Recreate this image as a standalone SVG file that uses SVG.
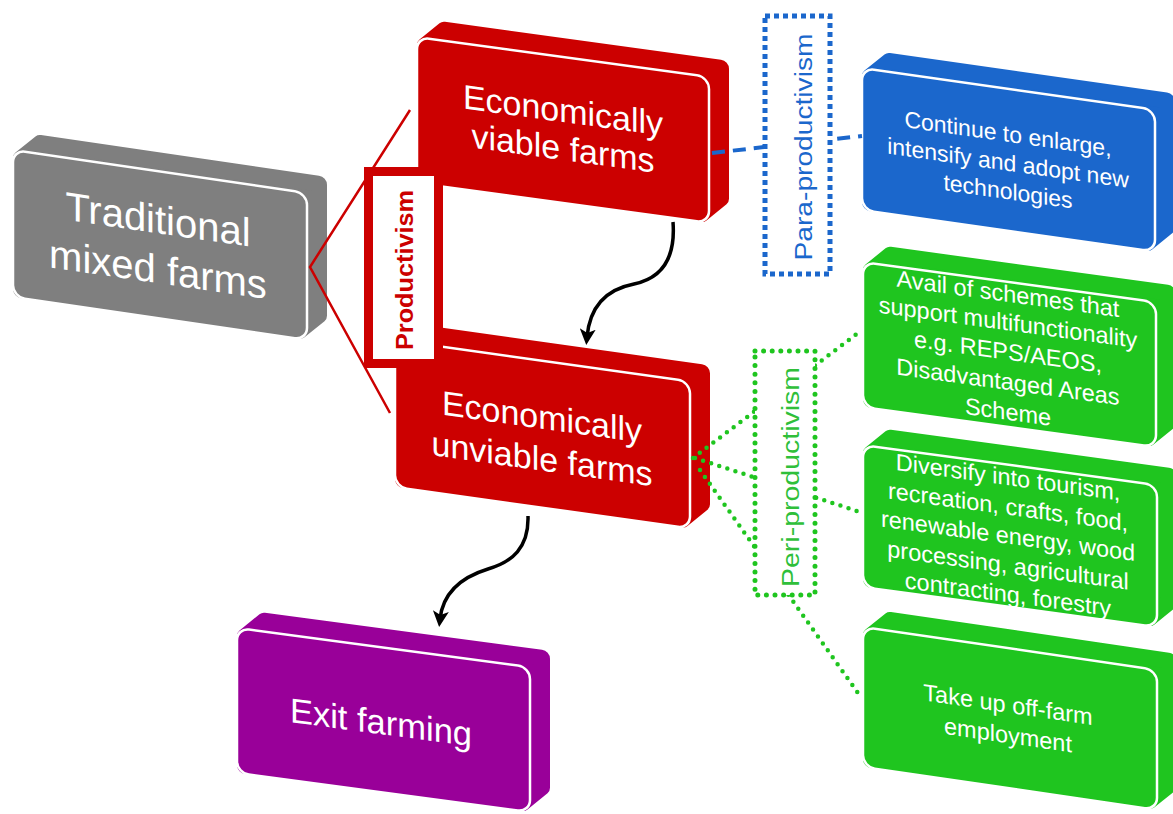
<svg xmlns="http://www.w3.org/2000/svg" width="1173" height="814" viewBox="0 0 1173 814">
<defs>
<style>
text{font-family:"Liberation Sans",Arial,sans-serif;}
.slab{stroke-width:16;stroke-linejoin:round;}
.face{stroke:#ffffff;stroke-width:2.5;}
.gray{fill:#7f7f7f;stroke:#7f7f7f;}
.red{fill:#cc0000;stroke:#cc0000;}
.purple{fill:#990099;stroke:#990099;}
.blue{fill:#1b67cc;stroke:#1b67cc;}
.green{fill:#1fc51f;stroke:#1fc51f;}
.face.gray,.face.red,.face.purple,.face.blue,.face.green{stroke:#ffffff;}
.t{fill:#ffffff;text-anchor:middle;}
.big{font-size:40px;}
.mid{font-size:34px;}
.sm{font-size:23.5px;}
.arrow{fill:none;stroke:#000000;stroke-width:3.5;marker-end:url(#ah);}
.dot{fill:none;stroke:#1fc51f;stroke-width:4.5;stroke-dasharray:0 8.5;stroke-linecap:round;}
</style>
<marker id="ah" viewBox="0 0 16 16" refX="8" refY="8" markerWidth="16" markerHeight="16" markerUnits="userSpaceOnUse" orient="auto">
<path d="M0,0 L16,8 L0,16 L4,8 z" fill="#000000"/>
</marker>
</defs>
<rect width="1173" height="814" fill="#ffffff"/>

<g id="n-traditional" transform="translate(13,150) skewY(8.3)">
<polygon class="slab gray" points="8,8 28,-11 306,-11 306,120 286,139 8,139"/>
<rect class="face gray" x="0" y="0" width="294" height="147" rx="12"/>
<text class="t big" x="145" y="62">Traditional</text>
<text class="t big" x="145" y="112">mixed farms</text>
</g>

<g id="n-viable" transform="translate(417,37) skewY(7.8)">
<polygon class="slab red" points="8,8 28,-11 304,-11 304,119 284,138 8,138"/>
<rect class="face red" x="0" y="0" width="292" height="146" rx="12"/>
<text class="t mid" x="146" y="65">Economically</text>
<text class="t mid" x="146" y="103">viable farms</text>
</g>

<g id="n-unviable" transform="translate(395,340) skewY(8)">
<polygon class="slab red" points="8,8 28,-11 307,-11 307,120 287,139 8,139"/>
<rect class="face red" x="0" y="0" width="295" height="147" rx="12"/>
<text class="t mid" x="147" y="68">Economically</text>
<text class="t mid" x="147" y="110">unviable farms</text>
</g>

<g id="n-exit" transform="translate(237,628) skewY(7.6)">
<polygon class="slab purple" points="8,8 28,-11 305,-11 305,118 285,137 8,137"/>
<rect class="face purple" x="0" y="0" width="293" height="145" rx="12"/>
<text class="t" style="font-size:34.5px" x="144" y="87">Exit farming</text>
</g>

<g id="n-enlarge" transform="translate(862,68) skewY(8.1)">
<polygon class="slab blue" points="8,8 28,-11 305,-11 305,115 285,134 8,134"/>
<rect class="face blue" x="0" y="0" width="293" height="142" rx="12"/>
<text class="t sm" style="font-size:23px" x="146" y="53">Continue to enlarge,</text>
<text class="t sm" style="font-size:23px" x="146" y="82">intensify and adopt new</text>
<text class="t sm" style="font-size:23px" x="146" y="110.5">technologies</text>
</g>

<g id="n-schemes" transform="translate(863,262) skewY(7.8)">
<polygon class="slab green" points="8,8 28,-11 305,-11 305,118 285,137 8,137"/>
<rect class="face green" x="0" y="0" width="293" height="145" rx="12"/>
<text class="t sm" x="145" y="20">Avail of schemes that</text>
<text class="t sm" x="145" y="48.5">support multifunctionality</text>
<text class="t sm" x="145" y="78">e.g. REPS/AEOS,</text>
<text class="t sm" x="145" y="108">Disadvantaged Areas</text>
<text class="t sm" x="145" y="138">Scheme</text>
</g>

<g id="n-diversify" transform="translate(863,445) skewY(7.75)">
<polygon class="slab green" points="8,8 28,-11 306,-11 306,115 286,134 8,134"/>
<rect class="face green" x="0" y="0" width="294" height="142" rx="12"/>
<text class="t sm" x="145" y="20.5">Diversify into tourism,</text>
<text class="t sm" x="145" y="50">recreation, crafts, food,</text>
<text class="t sm" x="145" y="79">renewable energy, wood</text>
<text class="t sm" x="145" y="108.5">processing, agricultural</text>
<text class="t sm" x="145" y="137.5">contracting, forestry</text>
</g>

<g id="n-offfarm" transform="translate(863,627) skewY(8.3)">
<polygon class="slab green" points="8,8 28,-11 306,-11 306,113 286,132 8,132"/>
<rect class="face green" x="0" y="0" width="294" height="140" rx="12"/>
<text class="t sm" x="145" y="64.5">Take up off-farm</text>
<text class="t sm" x="145" y="95">employment</text>
</g>

<g id="connectors">
<polyline points="410,110 310,267 390,413" fill="none" stroke="#cc0000" stroke-width="2.5"/>
<line x1="712" y1="153" x2="862" y2="136" stroke="#1b67cc" stroke-width="4" stroke-dasharray="13 8"/>
<line class="dot" x1="693" y1="458" x2="858" y2="333"/>
<line class="dot" x1="695" y1="458" x2="860" y2="512"/>
<line class="dot" x1="700" y1="470" x2="858" y2="693"/>
<path class="arrow" d="M673,222 C676,262 658,279 634,284 C608,289 590,305 587,337"/>
<path class="arrow" d="M528,516 C529,548 512,562 488,569 C462,577 443,592 440,619"/>
</g>

<g id="l-productivism">
<rect x="368.5" y="171.5" width="70" height="192" fill="#ffffff" stroke="#cc0000" stroke-width="9"/>
<text transform="translate(413,270) rotate(-90)" text-anchor="middle" font-size="23" font-weight="bold" fill="#cc0000" textLength="160" lengthAdjust="spacingAndGlyphs">Productivism</text>
</g>

<g id="l-para">
<rect x="765" y="16" width="65" height="258" fill="#ffffff" stroke="#1b67cc" stroke-width="5" stroke-dasharray="5 4"/>
<text transform="translate(812,147) rotate(-90)" text-anchor="middle" font-size="23" fill="#1b67cc" textLength="227" lengthAdjust="spacingAndGlyphs">Para-productivism</text>
</g>

<g id="l-peri">
<rect x="755" y="351" width="60" height="244" fill="#ffffff" stroke="#1fc51f" stroke-width="5" stroke-dasharray="0 8.6" stroke-linecap="round"/>
<text transform="translate(799,477) rotate(-90)" text-anchor="middle" font-size="23" fill="#2fbf3a" textLength="220" lengthAdjust="spacingAndGlyphs">Peri-productivism</text>
</g>
</svg>
